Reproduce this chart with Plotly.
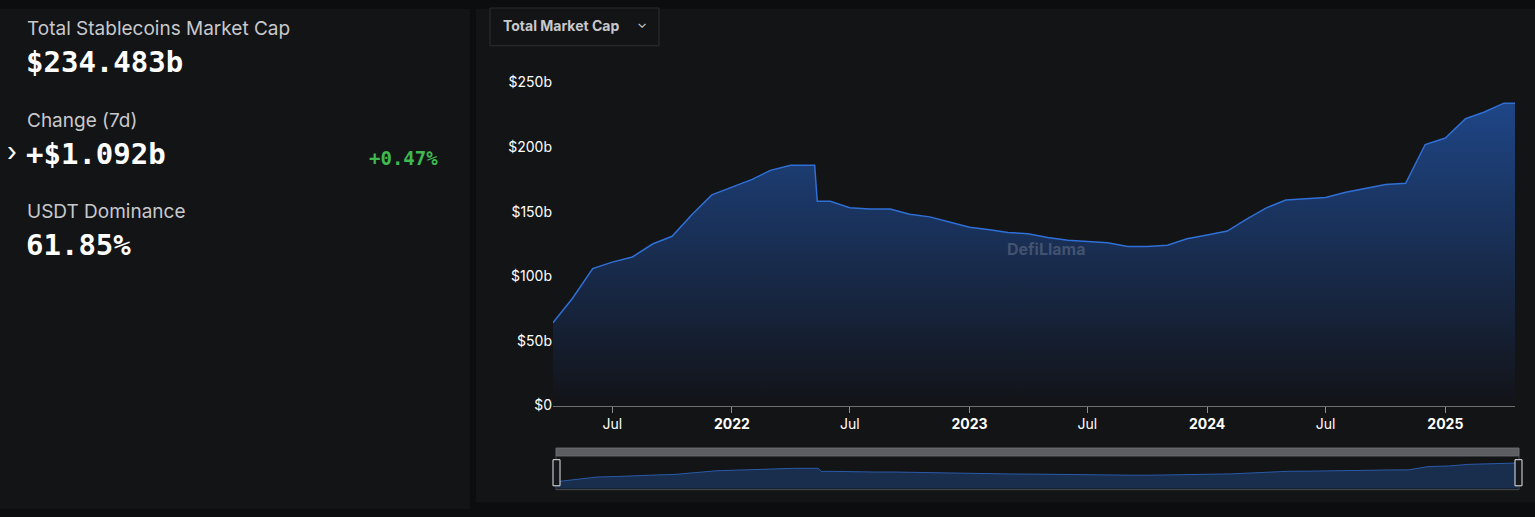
import pandas as pd
import plotly.graph_objects as go

# Monthly total stablecoin market cap (billions USD)
dates = ["2021-04-01", "2021-05-01", "2021-06-01", "2021-07-01", "2021-08-01", "2021-09-01",
         "2021-10-01", "2021-11-01", "2021-12-01", "2022-01-01", "2022-02-01", "2022-03-01",
         "2022-04-01", "2022-05-08", "2022-05-12", "2022-06-01", "2022-07-01", "2022-08-01",
         "2022-09-01", "2022-10-01", "2022-11-01", "2022-12-01", "2023-01-01", "2023-02-01",
         "2023-03-01", "2023-04-01", "2023-05-01", "2023-06-01", "2023-07-01", "2023-08-01",
         "2023-09-01", "2023-10-01", "2023-11-01", "2023-12-01", "2024-01-01", "2024-02-01",
         "2024-03-01", "2024-04-01", "2024-05-01", "2024-06-01", "2024-07-01", "2024-08-01",
         "2024-09-01", "2024-10-01", "2024-11-01", "2024-12-01", "2025-01-01", "2025-02-01",
         "2025-03-01", "2025-04-01", "2025-04-18"]
mcap = [64, 83, 106, 111, 115, 125, 131, 148, 163, 169, 175, 182,
        186, 186, 158, 158, 153, 152, 152, 148, 146, 142, 138, 136,
        134, 133, 130, 128, 127, 126, 123, 123, 124, 129, 132, 135,
        144, 153, 159, 160, 161, 165, 168, 171, 172, 202, 207, 222,
        227, 234, 234]
tick_vals = [0, 50, 100, 150, 200, 250]
tick_text = ["$0", "$50b", "$100b", "$150b", "$200b", "$250b"]
x_ticks = ["2021-07-01", "2022-01-01", "2022-07-01", "2023-01-01", "2023-07-01",
           "2024-01-01", "2024-07-01", "2025-01-01"]
x_labels = ["Jul", "<b>2022</b>", "Jul", "<b>2023</b>", "Jul", "<b>2024</b>", "Jul", "<b>2025</b>"]

W, H = 1535, 517
df = pd.DataFrame({"date": pd.to_datetime(dates), "mcap": mcap})


def px_x(p):
    return p / W


def px_y(p):
    return 1 - p / H


fig = go.Figure()
fig.add_trace(go.Scatter(
    x=df.date, y=df.mcap, mode="lines",
    line=dict(color="#2f6fd6", width=1.5),
    fill="tozeroy",
    fillgradient=dict(type="vertical", colorscale=[[0, "rgba(18,19,23,1)"], [1, "rgba(31,72,140,0.95)"]]),
    hoverinfo="skip",
))
# navigator mini chart
fig.add_trace(go.Scatter(
    x=df.date, y=df.mcap, mode="lines", xaxis="x2", yaxis="y2",
    line=dict(color="#2a5aa8", width=1),
    fill="tozeroy", fillcolor="rgba(28,55,100,0.7)",
    hoverinfo="skip",
))

mono = "DejaVu Sans Mono"
sans = "Inter"
white = "#ffffff"
muted = "#c8c9cc"

dy = -7
annotations = [
    dict(x=25, y=27, text="Total Stablecoins Market Cap", font=dict(family=sans, size=19, color=muted)),
    dict(x=24, y=62, text="<b>$234.483b</b>", font=dict(family=mono, size=29, color=white)),
    dict(x=25, y=122, text="Change (7d)", font=dict(family=sans, size=19, color=muted)),
    dict(x=5, y=154, text="›", font=dict(family=sans, size=26, color=white)),
    dict(x=24, y=157, text="<b>+$1.092b</b>", font=dict(family=mono, size=29, color=white)),
    dict(x=440, y=161, text="<b>+0.47%</b>", xanchor="right", font=dict(family=mono, size=19, color="#3fb950")),
    dict(x=25, y=216, text="USDT Dominance", font=dict(family=sans, size=19, color=muted)),
    dict(x=24, y=251, text="<b>61.85%</b>", font=dict(family=mono, size=29, color=white)),
    dict(x=501, y=24, text="<b>Total Market Cap</b>", font=dict(family=sans, size=14, color=muted)),
    dict(x=635, y=21, text="⌄", font=dict(family=sans, size=13, color=muted)),
    dict(x=1005, y=255, text="<b>DefiLlama</b>", font=dict(family=sans, size=16, color="rgba(150,155,170,0.35)")),
]
for a in annotations:
    a.update(xref="paper", yref="paper", showarrow=False,
             xanchor=a.get("xanchor", "left"), yanchor="middle",
             x=px_x(a["x"]), y=px_y(a["y"] + dy))


def rect(x0, y0, x1, y1, **kw):
    return dict(type="rect", xref="paper", yref="paper",
                x0=px_x(x0), x1=px_x(x1), y0=px_y(y1), y1=px_y(y0), **kw)


shapes = [
    rect(0, 0, 470, 517, fillcolor="#131416", line_width=0, layer="below"),
    rect(476, 0, 1535, 510, fillcolor="#131416", line_width=0, layer="below"),
    rect(490, -1, 659, 38, fillcolor="rgba(0,0,0,0)", line=dict(color="#2c2e33", width=1)),
    # navigator frame, top bar and handles
    rect(556, 462, 1519, 497, fillcolor="rgba(0,0,0,0)", line=dict(color="#4a4d53", width=1)),
    rect(556, 454, 1519, 462, fillcolor="#5c5e62", line=dict(color="#6a6c70", width=1)),
    rect(553, 466, 560, 493, fillcolor="#16171a", line=dict(color="#e6e6e6", width=1)),
    rect(1515, 466, 1522, 493, fillcolor="#16171a", line=dict(color="#e6e6e6", width=1)),
]

fig.update_layout(
    width=W, height=H,
    margin=dict(l=0, r=0, t=0, b=0),
    paper_bgcolor="#0c0d0f", plot_bgcolor="rgba(0,0,0,0)",
    showlegend=False,
    annotations=annotations, shapes=shapes,
    font=dict(family=sans, color=white),
    xaxis=dict(
        domain=[px_x(553), px_x(1515)], anchor="y",
        range=["2021-04-01", "2025-04-18"],
        tickvals=pd.to_datetime(x_ticks), ticktext=x_labels,
        showgrid=False, showline=True, linecolor="#6b6e75",
        ticks="outside", ticklen=6, tickcolor="#8a8d94",
        tickfont=dict(family=sans, size=14, color=white), zeroline=False,
    ),
    yaxis=dict(
        domain=[px_y(410), px_y(76)], anchor="x",
        range=[0, 250], tickvals=tick_vals, ticktext=tick_text,
        showgrid=False, zeroline=False, ticks="", ticklen=2,
        tickfont=dict(family=sans, size=14, color=white),
    ),
    xaxis2=dict(
        domain=[px_x(557), px_x(1518)], anchor="y2",
        range=["2021-04-01", "2025-04-18"],
        showticklabels=False, showgrid=False, zeroline=False,
    ),
    yaxis2=dict(
        domain=[px_y(496), px_y(462)], anchor="x2",
        range=[0, 300], showticklabels=False, showgrid=False, zeroline=False,
    ),
)

fig.write_html("out.html", config={"displayModeBar": False},
               post_script="document.body.style.margin='0';")
